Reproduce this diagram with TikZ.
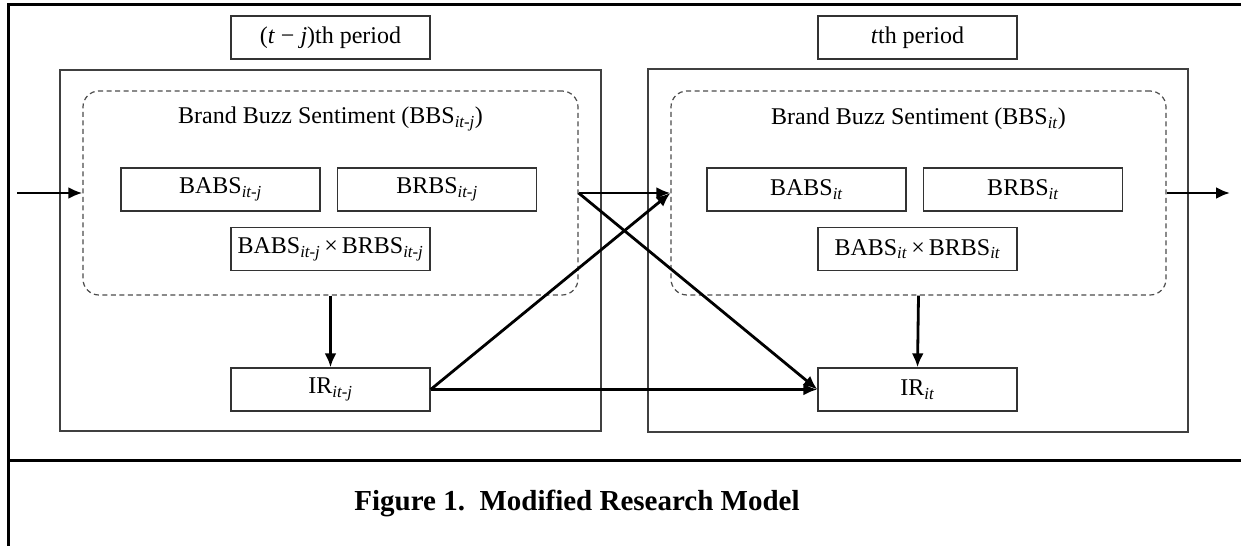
\documentclass[tikz,border=0pt]{standalone}
\usepackage{fontspec}
\setmainfont{Liberation Serif}
\usepackage{tikz}
\usetikzlibrary{arrows.meta, positioning}

\begin{document}
\begin{tikzpicture}[
        x=1pt, y=-1pt,
        every node/.style={font=\fontsize{24}{28}\selectfont},
        box/.style={
            rectangle,
            draw=black!80,
            line width=1.3pt,
            minimum width=199pt,
            minimum height=43pt,
            inner sep=0pt
        },
        panel/.style={
            rectangle,
            draw=black!75,
            line width=1.3pt,
            inner sep=0pt
        },
        group/.style={
            rectangle,
            draw=black!70,
            line width=1.2pt,
            dash pattern=on 5pt off 3.5pt,
            rounded corners=16pt,
            minimum width=495pt,
            minimum height=204pt,
            inner sep=0pt
        },
        frame/.style={black, line width=3pt},
        arrow/.style={-{Latex[length=14pt, width=12pt]}, black, line width=2.8pt}
    ]

    \useasboundingbox (0,0) rectangle (1241,546);

    % --- FRAME ---
    \draw [frame] (1241,4) -| (8,546);
    \draw [frame] (8,460) -- (1241,460);

    % --- PANELS ---
    \node (lpanel) [panel, minimum width=541pt, minimum height=361pt] at (330.5,250.5) {};
    \node (rpanel) [panel, minimum width=540pt, minimum height=363pt] at (918,250.5) {};

    \node (lperiod) [box] at (330.5,37.5) {(\textit{t} − \textit{j})th period};
    \node (rperiod) [box] at (917.5,37.5) {\textit{t}th period};

    \node (lgroup) [group] at (330.5,193) {};
    \node (rgroup) [group] at (918.5,193) {};

    \node (ltitle) at (330.5,119) {Brand Buzz Sentiment (BBS\textsubscript{\textit{it-j}})};
    \node (rtitle) at (918.5,119) {Brand Buzz Sentiment (BBS\textsubscript{\textit{it}})};

    % --- NODES ---
    \node (lbabs) [box] at (220.5,189.5) {BABS\textsubscript{\textit{it-j}}};
    \node (lbrbs) [box] at (437,189.5) {BRBS\textsubscript{\textit{it-j}}};
    \node (lprod) [box] at (330.5,249) {BABS\textsubscript{\textit{it-j}}\,×\,BRBS\textsubscript{\textit{it-j}}};
    \node (lir) [box] at (330.5,389.5) {IR\textsubscript{\textit{it-j}}};

    \node (rbabs) [box] at (806.5,189.5) {BABS\textsubscript{\textit{it}}};
    \node (rbrbs) [box] at (1023,189.5) {BRBS\textsubscript{\textit{it}}};
    \node (rprod) [box] at (917.5,249) {BABS\textsubscript{\textit{it}}\,×\,BRBS\textsubscript{\textit{it}}};
    \node (rir) [box] at (917.5,389.5) {IR\textsubscript{\textit{it}}};

    \coordinate (in) at (17,193);
    \coordinate (out) at (1230,193);

    % --- ARROWS ---
    \draw [arrow] (in) -- (lgroup.west);
    \draw [arrow] (lgroup.south) -- (lir.north);
    \draw [arrow] (rgroup.south) -- (rir.north);
    \draw [arrow] (lgroup.east) -- (rgroup.west);
    \draw [arrow] (lgroup.east) -- (rir.west);
    \draw [arrow] (lir.east) -- (rgroup.west);
    \draw [arrow] (lir.east) -- (rir.west);
    \draw [arrow] (rgroup.east) -- (out);

    % --- CAPTION ---
    \node (caption) [font=\fontsize{29}{32}\selectfont\bfseries] at (577,503) {Figure 1.\ \ Modified Research Model};

\end{tikzpicture}
\end{document}
